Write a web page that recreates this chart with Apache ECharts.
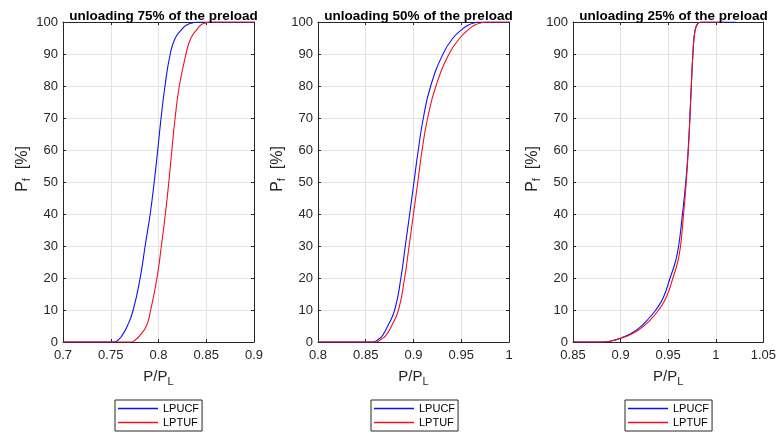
<!DOCTYPE html>
<html><head><meta charset="utf-8">
<script src="https://cdn.jsdelivr.net/npm/echarts@6/dist/echarts.min.js"></script>
<style>html,body{margin:0;padding:0;background:#fff}#c{width:779px;height:433px}</style>
</head><body><div id="c"></div>
<script>
// ---- data ----
const panelTitles = ['unloading 75% of the preload', 'unloading 50% of the preload', 'unloading 25% of the preload'];
const seriesNames = ['LPUCF', 'LPTUF'];
const xMin = [0.7, 0.8, 0.85];
const xMax = [0.9, 1.0, 1.05];
const xStep = 0.05;
const yMin = 0, yMax = 100, yStep = 10;

// unloading 75%
const u75_LPUCF_x = [0.70, 0.754, 0.759, 0.7618, 0.7674, 0.7735, 0.7808, 0.786, 0.7913, 0.7955, 0.7992, 0.8027, 0.8068, 0.8123, 0.8176, 0.8253, 0.829, 0.835, 0.842, 0.90];
const u75_LPUCF_y = [0, 0, 1, 2, 5, 10, 20, 30, 40, 50, 60, 70, 80, 90, 95, 98, 99, 99.7, 100, 100];
const u75_LPTUF_x = [0.70, 0.7716, 0.777, 0.7803, 0.7873, 0.7918, 0.7984, 0.803, 0.8072, 0.8108, 0.814, 0.8174, 0.8218, 0.8288, 0.834, 0.8411, 0.844, 0.849, 0.854, 0.90];
const u75_LPTUF_y = [0, 0, 1, 2, 5, 10, 20, 30, 40, 50, 60, 70, 80, 90, 95, 98, 99, 99.7, 100, 100];

// unloading 50%
const u50_LPUCF_x = [0.80, 0.857, 0.864, 0.8675, 0.873, 0.8803, 0.8868, 0.8914, 0.896, 0.9005, 0.905, 0.9103, 0.9180, 0.9309, 0.9414, 0.952, 0.957, 0.963, 0.970, 1.00];
const u50_LPUCF_y = [0, 0, 1, 2, 5, 10, 20, 30, 40, 50, 60, 70, 80, 90, 95, 98, 99, 99.7, 100, 100];
const u50_LPTUF_x = [0.80, 0.8605, 0.867, 0.871, 0.877, 0.8843, 0.8907, 0.8954, 0.900, 0.9045, 0.9090, 0.9148, 0.9235, 0.9372, 0.9486, 0.959, 0.964, 0.970, 0.977, 1.00];
const u50_LPTUF_y = [0, 0, 1, 2, 5, 10, 20, 30, 40, 50, 60, 70, 80, 90, 95, 98, 99, 99.7, 100, 100];

// unloading 25%
const u25_LPUCF_x = [0.85, 0.882, 0.89, 0.90, 0.91, 0.92, 0.93, 0.937, 0.945, 0.952, 0.9575, 0.961, 0.965, 0.9685, 0.971, 0.9728, 0.9743, 0.976, 0.978, 0.981, 0.985, 1.021];
const u25_LPUCF_y = [0, 0, 0.3, 1.2, 2.5, 4.5, 7.5, 10, 14, 20, 25, 30, 40, 50, 60, 70, 80, 90, 97, 99.5, 100, 100];
const u25_LPTUF_x = [0.85, 0.882, 0.89, 0.90, 0.91, 0.92, 0.93, 0.94, 0.948, 0.955, 0.960, 0.963, 0.9662, 0.969, 0.9712, 0.9728, 0.9743, 0.976, 0.978, 0.981, 0.985, 1.01];
const u25_LPTUF_y = [0, 0, 0.3, 1.2, 2.3, 4, 6.5, 10, 14, 20, 25, 30, 40, 50, 60, 70, 80, 90, 97, 99.5, 100, 100];

const panelData = [
  [[u75_LPUCF_x, u75_LPUCF_y], [u75_LPTUF_x, u75_LPTUF_y]],
  [[u50_LPUCF_x, u50_LPUCF_y], [u50_LPTUF_x, u50_LPTUF_y]],
  [[u25_LPUCF_x, u25_LPUCF_y], [u25_LPTUF_x, u25_LPTUF_y]]
];

// ---- layout / style ----
const FONT = "'Liberation Sans', Arial, sans-serif";
const AX = '#262626';
const GRIDC = '#e3e3e3';
const colors = ['#1010f0', '#f01020'];
const gridLeft = [63, 318, 573];
const gridW = 191, gridTop = 22, gridH = 320;
const legendLeft = [115, 371, 625];

const zip = (xs, ys) => xs.map((x, i) => [x, ys[i]]);
const fmt = v => String(parseFloat(v.toFixed(2)));

const grids = [], xAxes = [], yAxes = [], series = [], titles = [], legends = [];
for (let p = 0; p < 3; p++) {
  grids.push({ left: gridLeft[p], top: gridTop, width: gridW, height: gridH, containLabel: false });
  titles.push({
    text: panelTitles[p], left: gridLeft[p] + gridW / 2, top: 4, textAlign: 'center',
    textStyle: { fontFamily: FONT, fontSize: 13.5, fontWeight: 'bold', color: '#000' }
  });
  xAxes.push({
    type: 'value', gridIndex: p, min: xMin[p], max: xMax[p], interval: xStep, position: 'bottom',
    axisLine: { show: true, onZero: false, lineStyle: { color: AX, width: 1 } },
    axisTick: { show: true, inside: true, length: 3, lineStyle: { color: AX } },
    axisLabel: { color: AX, fontFamily: FONT, fontSize: 13, margin: 7, formatter: fmt, showMinLabel: true, showMaxLabel: true },
    splitLine: { show: true, lineStyle: { color: GRIDC, width: 1 } },
    name: '{n|P/P}{s|L}', nameLocation: 'middle', nameGap: 25,
    nameTextStyle: { rich: {
      n: { fontFamily: FONT, fontSize: 15, color: AX, lineHeight: 20 },
      s: { fontFamily: FONT, fontSize: 11, color: AX, lineHeight: 6, verticalAlign: 'bottom' }
    } }
  });
  yAxes.push({
    type: 'value', gridIndex: p, min: yMin, max: yMax, interval: yStep, position: 'left',
    axisLine: { show: true, onZero: false, lineStyle: { color: AX, width: 1 } },
    axisTick: { show: true, inside: true, length: 3, lineStyle: { color: AX } },
    axisLabel: { color: AX, fontFamily: FONT, fontSize: 13, margin: 5, showMinLabel: true, showMaxLabel: true },
    splitLine: { show: true, lineStyle: { color: GRIDC, width: 1 } },
    name: '{n|P}{s|f}{n|  [%]}', nameLocation: 'middle', nameGap: 30,
    nameTextStyle: { padding: [0, 0, 0, 26], rich: {
      n: { fontFamily: FONT, fontSize: 16, color: AX, lineHeight: 20 },
      s: { fontFamily: FONT, fontSize: 11, color: AX, lineHeight: 6, verticalAlign: 'bottom' }
    } }
  });
  legends.push({
    left: legendLeft[p], top: 400, orient: 'vertical', data: seriesNames, icon: 'rect',
    itemWidth: 40, itemHeight: 1.5, itemGap: 3, padding: [3, 3, 3, 3],
    borderColor: AX, borderWidth: 1, backgroundColor: '#fff', selectedMode: false,
    textStyle: { fontFamily: FONT, fontSize: 11, color: '#000' }
  });
  for (let s = 0; s < 2; s++) {
    series.push({
      type: 'line', name: seriesNames[s], xAxisIndex: p, yAxisIndex: p,
      data: zip(panelData[p][s][0], panelData[p][s][1]),
      symbol: 'none', smooth: 0.5,
      lineStyle: { color: colors[s], width: 1.1 }, itemStyle: { color: colors[s] },
      z: 3 + s, silent: true, animation: false
    });
  }
}
// mirrored top / right axes (box with inward ticks)
for (let p = 0; p < 3; p++) {
  xAxes.push({
    type: 'value', gridIndex: p, min: xMin[p], max: xMax[p], interval: xStep, position: 'top',
    axisLine: { show: true, onZero: false, lineStyle: { color: AX, width: 1 } },
    axisTick: { show: true, inside: true, length: 3, lineStyle: { color: AX } },
    axisLabel: { show: false }, splitLine: { show: false }
  });
  yAxes.push({
    type: 'value', gridIndex: p, min: yMin, max: yMax, interval: yStep, position: 'right',
    axisLine: { show: true, onZero: false, lineStyle: { color: AX, width: 1 } },
    axisTick: { show: true, inside: true, length: 3, lineStyle: { color: AX } },
    axisLabel: { show: false }, splitLine: { show: false }
  });
}

const chart = echarts.init(document.getElementById('c'), null, { renderer: 'canvas' });
chart.setOption({
  animation: false,
  backgroundColor: '#fff',
  title: titles, grid: grids, xAxis: xAxes, yAxis: yAxes, legend: legends, series: series
});
</script></body></html>
